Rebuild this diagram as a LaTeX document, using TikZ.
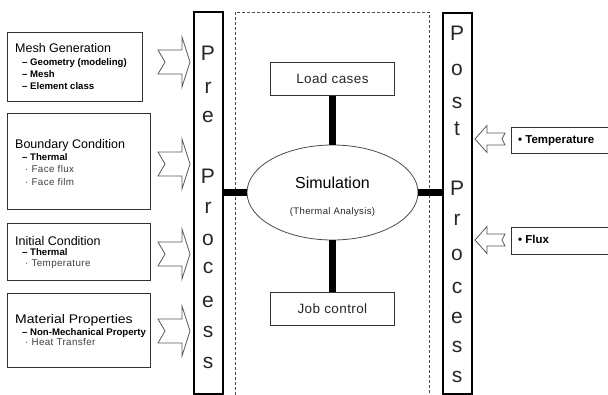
\documentclass[tikz,border=0pt]{standalone}
\usepackage{fontspec}
\setmainfont{Liberation Sans}
\usetikzlibrary{shapes.geometric}
\begin{document}
\begin{tikzpicture}[x=1pt,y=-1pt,
  box/.style={draw=black!80, line width=0.8pt, fill=white, inner sep=0pt, anchor=north west},
  barbox/.style={draw=black, line width=2pt, inner sep=0pt, anchor=north west, minimum width=29pt},
  title/.style={anchor=base west, inner sep=0pt, font=\fontsize{12.5}{14}\selectfont},
  bolditem/.style={anchor=base west, inner sep=0pt, font=\fontsize{9.6}{10}\selectfont\bfseries},
  lightitem/.style={anchor=base west, inner sep=0pt, text=black!75, font=\fontsize{9.8}{10}\selectfont\addfontfeatures{LetterSpace=4}},
  barletter/.style={anchor=base, inner sep=0pt, font=\fontsize{21}{22}\selectfont, text=black!85},
  midtext/.style={font=\fontsize{13.5}{15}\selectfont\addfontfeatures{LetterSpace=3}, text=black!85},
  thick7/.style={line width=7pt, black},
  arrowsty/.style={draw=black!65, line width=0.8pt, fill=white, line join=miter},
  rarrow/.pic={\draw[arrowsty] (0,-12) -- (24,-12) -- (24,-25) -- (32,0) -- (24,25) -- (24,12) -- (0,12) -- (7,0) -- cycle;},
  larrow/.pic={\draw[arrowsty] (0,0) -- (12,-13.5) -- (12,-6) -- (30,-6) -- (27,0) -- (30,6) -- (12,6) -- (12,13.5) -- cycle;}
]
\useasboundingbox (0,0) rectangle (608,394);
\clip (0,0) rectangle (608,394);

% dashed simulation region
\draw[black!70, line width=0.7pt, dash pattern=on 3pt off 2pt] (235,12) rectangle (429,398);

% left boxes
\node[box, minimum width=135pt, minimum height=69pt] (b1) at (7,32) {};
\node[box, minimum width=143pt, minimum height=96pt] (b2) at (7,113) {};
\node[box, minimum width=143pt, minimum height=57pt] (b3) at (7,223) {};
\node[box, minimum width=143pt, minimum height=74pt] (b4) at (7,293) {};

\node[title] (t1) at (15,52) {Mesh Generation};
\node[bolditem] (t1a) at (22,65.5) {– Geometry (modeling)};
\node[bolditem] (t1b) at (22,77.5) {– Mesh};
\node[bolditem] (t1c) at (22,89.5) {– Element class};

\node[title] (t2) at (15,148.5) {Boundary Condition};
\node[bolditem] (t2a) at (22,160) {– Thermal};
\node[lightitem] (t2b) at (25,172.7) {· Face flux};
\node[lightitem] (t2c) at (25,185) {· Face film};

\node[title] (t3) at (15,245) {Initial Condition};
\node[bolditem] (t3a) at (22,255) {– Thermal};
\node[lightitem] (t3b) at (25,266) {· Temperature};

\node[title] (t4) at (15,323) {\scalebox{1.12}[1]{Material Properties}};
\node[bolditem] (t4a) at (22,335) {– Non-Mechanical Property};
\node[lightitem] (t4b) at (25,345) {· Heat Transfer};

% input arrows
\pic at (158,62) {rarrow};
\pic at (158,164) {rarrow};
\pic at (158,254) {rarrow};
\pic at (158,331) {rarrow};

% bars
\node[barbox, minimum height=382pt] (pre) at (193,11) {};
\node[barbox, minimum height=381pt] (post) at (442,12) {};

\foreach \ch/\yy [count=\i] in {P/60,r/93,e/122,P/183,r/213,o/245,c/273,e/307,s/337,s/368}
  \node[barletter] (pre\i) at (208,\yy) {\ch};
\foreach \ch/\yy [count=\i] in {P/40,o/75,s/108,t/135,P/195,r/225,o/260,c/293,e/323,s/352,s/382}
  \node[barletter] (post\i) at (457,\yy) {\ch};

% center
\node[box, minimum width=124pt, minimum height=33pt] (load) at (270,62) {};
\node[midtext] (loadt) at (load.center) {Load cases};
\node[box, minimum width=124pt, minimum height=33pt] (job) at (270,292) {};
\node[midtext] (jobt) at (job.center) {Job control};
\node[ellipse, draw=black!70, line width=0.8pt, fill=white, minimum width=171pt, minimum height=95pt, inner sep=0pt] (sim) at (332.5,192.5) {};
\node[anchor=base, inner sep=0pt, font=\fontsize{16}{18}\selectfont] (simt) at (332.5,188) {Simulation};
\node[anchor=base, inner sep=0pt, font=\fontsize{9.5}{11}\selectfont\addfontfeatures{LetterSpace=4}, text=black!85] (simt2) at (332.5,214) {(Thermal Analysis)};

\draw[thick7] (load.south -| sim.north) -- (sim.north);
\draw[thick7] (sim.south) -- (job.north -| sim.south);
\draw[thick7] (pre.east |- sim.west) -- (sim.west);
\draw[thick7] (sim.east) -- (post.west |- sim.east);

% output boxes
\node[box, minimum width=110pt, minimum height=26pt] (temp) at (511,127) {};
\node[anchor=base west, inner sep=0pt, font=\fontsize{11.5}{12}\selectfont\bfseries] (tempt) at (518,143.3) {• Temperature};
\node[box, minimum width=110pt, minimum height=27pt] (flux) at (511,227) {};
\node[anchor=base west, inner sep=0pt, font=\fontsize{11.5}{12}\selectfont\bfseries] (fluxt) at (518,243.3) {• Flux};

\pic at (475,139) {larrow};
\pic at (475,240) {larrow};
\end{tikzpicture}
\end{document}
